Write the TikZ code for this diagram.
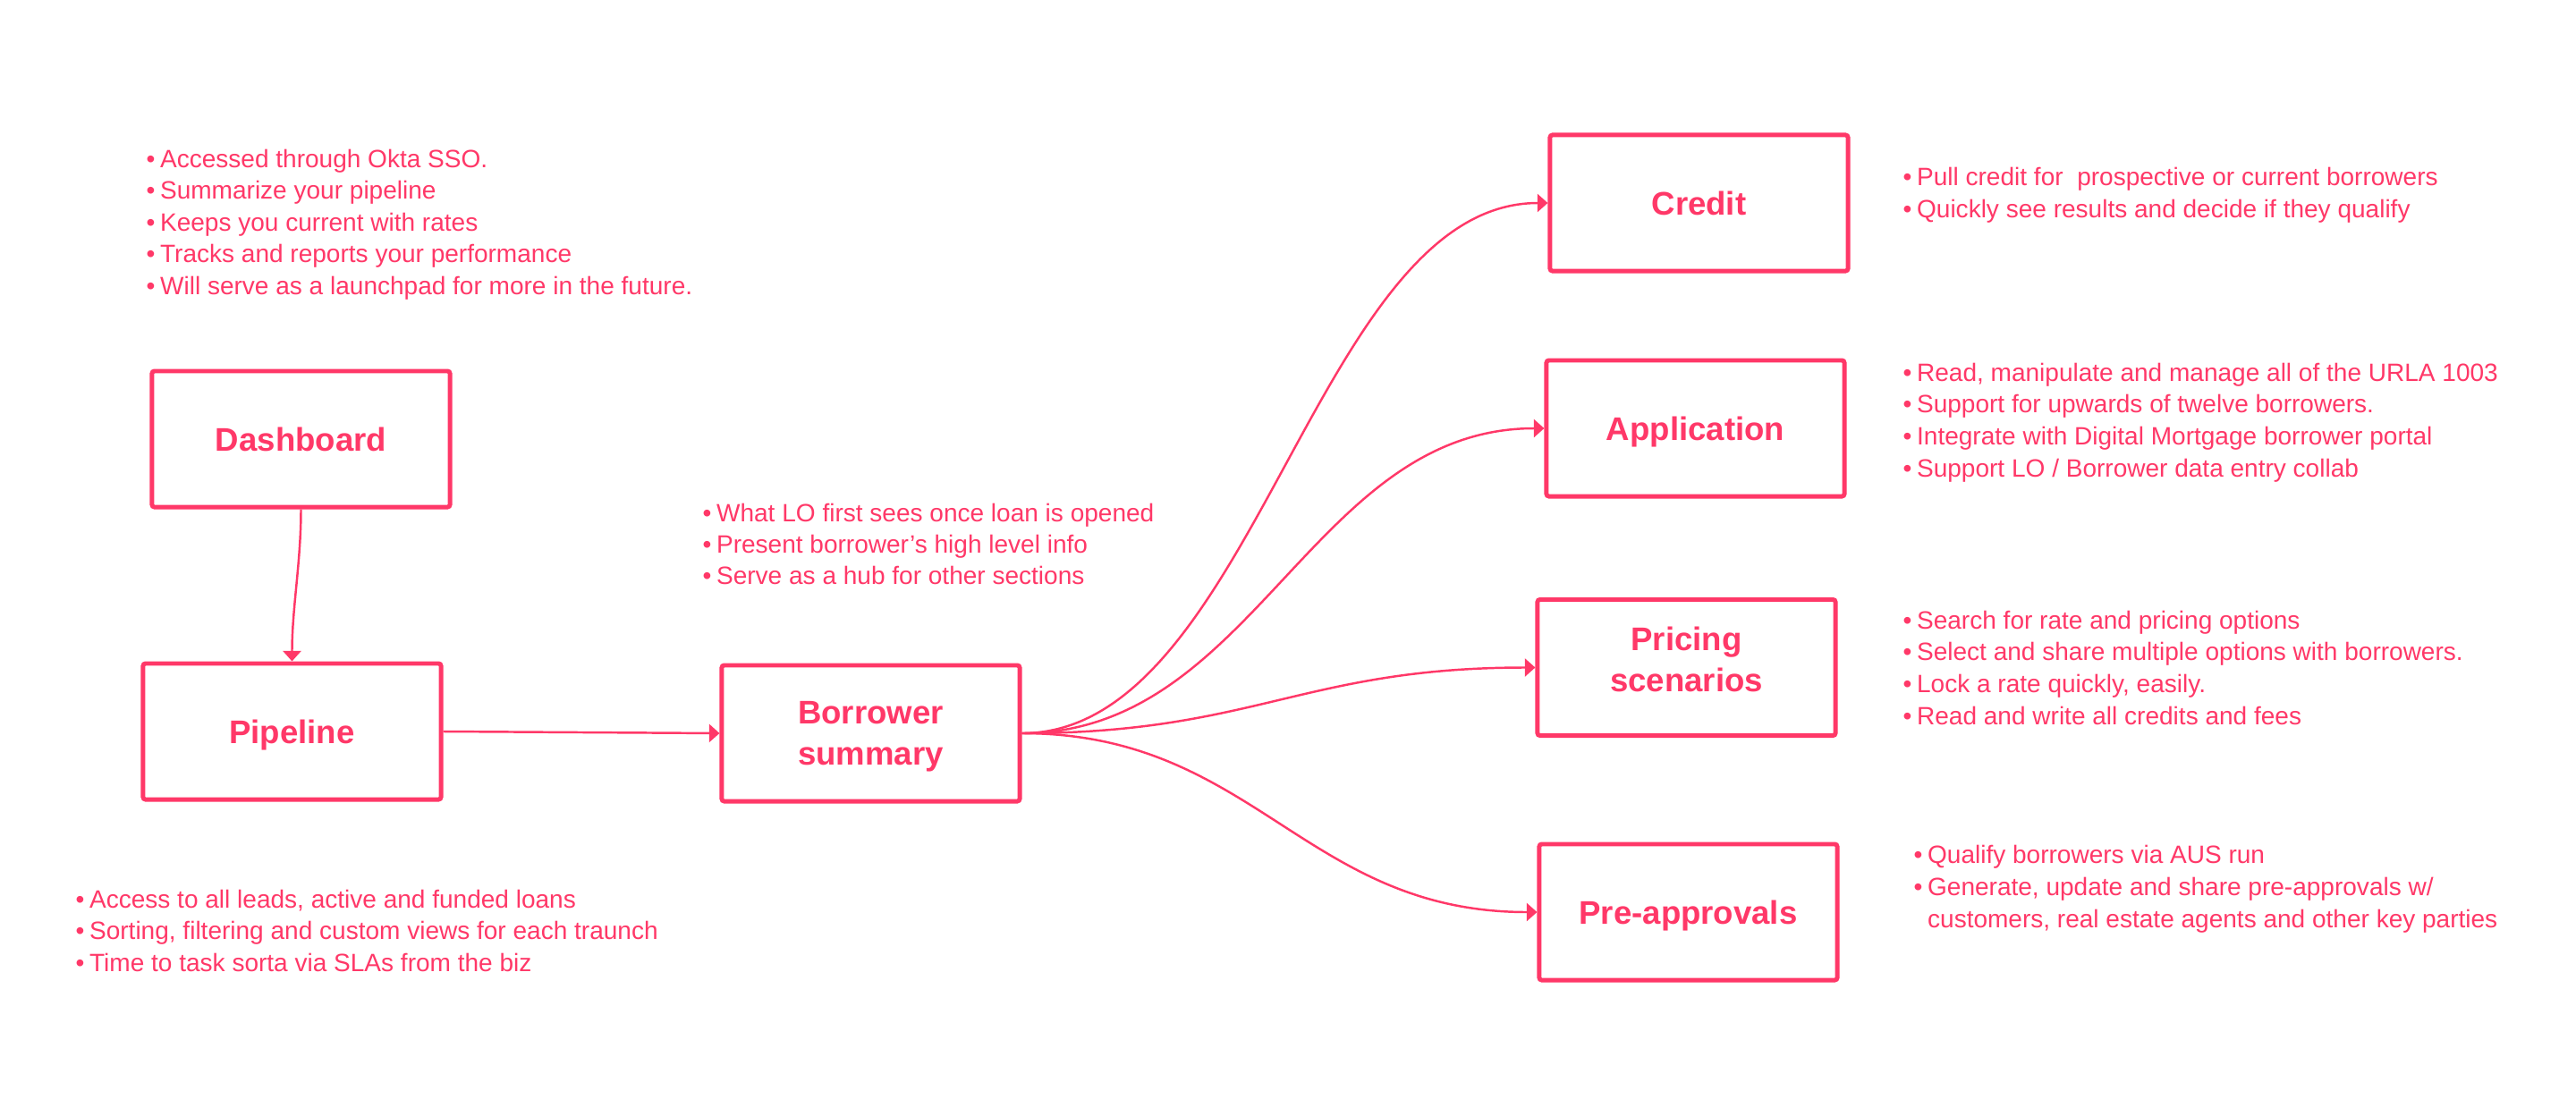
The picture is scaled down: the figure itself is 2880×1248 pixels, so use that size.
\documentclass[tikz,border=0pt]{standalone}
\usepackage{fontspec}
\setmainfont{Liberation Sans}
\usetikzlibrary{arrows.meta}
\definecolor{loanpink}{HTML}{FF3868}

\begin{document}
\begin{tikzpicture}[x=0.01cm,y=-0.01cm,
  box/.style={draw=loanpink,line width=1.4pt,rounded corners=0.8pt,
    minimum width=3.33cm,minimum height=1.52cm,text=loanpink,align=center,
    font=\fontsize{10.4pt}{13.1pt}\selectfont\bfseries,text depth=0pt},
  note/.style={text=loanpink,font=\fontsize{7.97pt}{10pt}\selectfont,
    anchor=base west,inner sep=0pt},
  flow/.style={draw=loanpink,line width=0.7pt,-{Triangle[length=3.3pt,width=5.7pt]}}]
\fill[white] (0,0) rectangle (2880,1248);
\useasboundingbox (0,0) rectangle (2880,1248);

% sections
\node[box] (dash) at (336.5,491) {Dashboard};
\node[box] (pipe) at (326.5,818) {Pipeline};
\node[box] (bor) at (973.5,820) {Borrower\\summary};
\node[box] (credit) at (1899.5,227) {Credit};
\node[box] (app) at (1895.5,479) {Application};
\node[box,text depth=0.18cm] (price) at (1885.5,746.5) {Pricing\\scenarios};
\node[box] (preapp) at (1887.5,1020) {Pre-approvals};

% flow
\draw[flow] (dash.south) .. controls +(0,60) and +(0,-60) .. (pipe.north);
\draw[flow] (pipe.east) -- (bor.west);
\foreach \n in {credit,app,price,preapp}
  \draw[flow] (bor.east) .. controls +(260,0) and +(-260,0) .. (\n.west);

% notes
\foreach \t [count=\i from 0] in {Accessed through Okta SSO., Summarize your pipeline,
    Keeps you current with rates, Tracks and reports your performance,
    Will serve as a launchpad for more in the future.}
  \node[note] (dashnote\i) at (163,{187+35.5*\i}) {•\kern1.6pt\t};
\foreach \t [count=\i from 0] in {{Access to all leads, active and funded loans},
    {Sorting, filtering and custom views for each traunch},
    Time to task sorta via SLAs from the biz}
  \node[note] (pipenote\i) at (84,{1015+35.5*\i}) {•\kern1.6pt\t};
\foreach \t [count=\i from 0] in {What LO first sees once loan is opened,
    Present borrower’s high level info, Serve as a hub for other sections}
  \node[note] (bornote\i) at (785,{583+35*\i}) {•\kern1.6pt\t};
\foreach \t [count=\i from 0] in {Pull credit for\ \ prospective or current borrowers,
    Quickly see results and decide if they qualify}
  \node[note] (crednote\i) at (2127,{207+36*\i}) {•\kern1.6pt\t};
\foreach \t [count=\i from 0] in {{Read, manipulate and manage all of the URLA 1003},
    Support for upwards of twelve borrowers.,
    Integrate with Digital Mortgage borrower portal,
    Support LO / Borrower data entry collab}
  \node[note] (appnote\i) at (2127,{426+35.7*\i}) {•\kern1.6pt\t};
\foreach \t [count=\i from 0] in {Search for rate and pricing options,
    Select and share multiple options with borrowers.,
    {Lock a rate quickly, easily.}, Read and write all credits and fees}
  \node[note] (pricenote\i) at (2127,{703+35.7*\i}) {•\kern1.6pt\t};
\foreach \t [count=\i from 0] in {Qualify borrowers via AUS run,
    {Generate, update and share pre-approvals w/}}
  \node[note] (prenote\i) at (2139,{965+36*\i}) {•\kern1.6pt\t};
\node[note] (prenote2) at (2139,1037)
  {\phantom{•}\kern1.6pt customers, real estate agents and other key parties};

\end{tikzpicture}
\end{document}
